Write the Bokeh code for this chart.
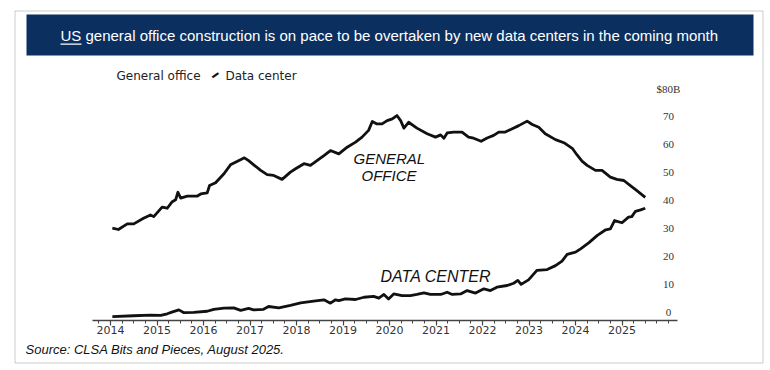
from bokeh.plotting import figure
from bokeh.models import Range1d, FixedTicker, Label, LabelSet, BoxAnnotation, ColumnDataSource
from bokeh.embed import file_html
from bokeh.resources import INLINE

# ---------------- data ----------------
title_text = "US general office construction is on pace to be overtaken by new data centers in the coming month"
source_text = "Source: CLSA Bits and Pieces, August 2025."
legend_office = "General office"
legend_dc = "Data center"
annot_office = ["GENERAL", "OFFICE"]
annot_dc = "DATA CENTER"

year_ticks = list(range(2014, 2026))
year_labels = ["2014", "2015", "2016", "2017", "2018", "2019", "2020",
               "2021", "2022", "2023", "2024", "2025"]
quarter_ticks = [2013.75] + [y + q / 4 for y in range(2014, 2026) for q in range(1, 4)] + [2026.0]

y_ticks = [0, 10, 20, 30, 40, 50, 60, 70, 80]
y_labels = ["0", "10", "20", "30", "40", "50", "60", "70", "$80B"]

# General office construction ($B, annualized)
go_t = [2014.04, 2014.17, 2014.36, 2014.50, 2014.71, 2014.86, 2014.93, 2015.11, 2015.22,
        2015.32, 2015.40, 2015.45, 2015.51, 2015.65, 2015.86, 2015.94, 2016.08, 2016.13,
        2016.26, 2016.44, 2016.58, 2016.72, 2016.88, 2016.97, 2017.08, 2017.23, 2017.37,
        2017.51, 2017.69, 2017.87, 2017.98, 2018.16, 2018.30, 2018.44, 2018.59, 2018.73,
        2018.91, 2019.09, 2019.27, 2019.41, 2019.55, 2019.63, 2019.73, 2019.84, 2019.95,
        2020.06, 2020.16, 2020.24, 2020.31, 2020.41, 2020.59, 2020.81, 2020.99, 2021.10,
        2021.17, 2021.24, 2021.38, 2021.56, 2021.70, 2021.81, 2021.97, 2022.10, 2022.24,
        2022.35, 2022.49, 2022.64, 2022.78, 2022.96, 2023.07, 2023.21, 2023.35, 2023.57,
        2023.75, 2023.93, 2024.03, 2024.14, 2024.25, 2024.43, 2024.57, 2024.75, 2024.89,
        2025.04, 2025.18, 2025.32, 2025.50]
go_v = [33.0, 32.5, 34.5, 34.5, 36.5, 37.7, 37.1, 40.5, 40.1,
        42.3, 43.1, 45.8, 43.7, 44.4, 44.4, 45.2, 45.6, 48.2,
        49.2, 52.4, 55.6, 56.8, 58.1, 57.1, 55.6, 53.6, 52.1,
        51.8, 50.4, 53.0, 54.2, 56.0, 55.4, 57.1, 58.9, 60.7,
        59.5, 61.9, 63.7, 65.5, 67.9, 71.1, 70.2, 70.2, 71.4,
        72.0, 73.2, 71.4, 68.7, 70.8, 68.7, 66.7, 65.5, 66.3,
        65.1, 67.0, 67.3, 67.3, 65.5, 65.1, 64.0, 65.2, 66.1,
        67.3, 67.3, 68.5, 69.6, 71.2, 70.0, 69.0, 66.7, 64.6,
        63.5, 61.5, 59.2, 56.9, 55.4, 53.6, 53.6, 51.2, 50.4,
        50.0, 48.2, 46.4, 44.0]

# Data center construction ($B, annualized)
dc_t = [2014.04, 2014.50, 2014.86, 2015.08, 2015.22, 2015.32, 2015.47, 2015.58, 2015.79,
        2016.08, 2016.22, 2016.44, 2016.65, 2016.80, 2016.97, 2017.08, 2017.29, 2017.40,
        2017.62, 2017.87, 2018.09, 2018.37, 2018.59, 2018.73, 2018.84, 2018.91, 2019.05,
        2019.27, 2019.45, 2019.66, 2019.77, 2019.88, 2019.98, 2020.09, 2020.27, 2020.45,
        2020.59, 2020.74, 2020.88, 2021.10, 2021.24, 2021.35, 2021.53, 2021.67, 2021.85,
        2022.03, 2022.17, 2022.31, 2022.53, 2022.67, 2022.76, 2022.83, 2022.99, 2023.17,
        2023.39, 2023.57, 2023.71, 2023.82, 2024.00, 2024.11, 2024.29, 2024.47, 2024.65,
        2024.75, 2024.84, 2025.00, 2025.14, 2025.21, 2025.29, 2025.40, 2025.50]
dc_v = [1.4, 1.7, 1.9, 1.8, 2.4, 3.0, 3.8, 2.8, 2.9,
        3.3, 4.0, 4.4, 4.5, 3.6, 4.3, 3.8, 4.0, 5.0,
        4.5, 5.4, 6.3, 6.9, 7.4, 6.2, 7.4, 7.1, 7.7,
        7.5, 8.3, 8.6, 8.0, 9.3, 7.7, 9.5, 8.9, 8.9,
        9.3, 9.9, 9.3, 9.3, 10.1, 9.3, 9.5, 10.7, 9.8,
        11.3, 10.7, 11.9, 12.5, 13.3, 14.3, 12.9, 14.5, 17.9,
        18.2, 19.6, 21.2, 23.6, 24.4, 25.6, 27.8, 30.4, 32.4,
        32.7, 35.7, 34.9, 36.9, 37.1, 39.0, 39.5, 40.1]

# ---------------- figure ----------------
# Plot frame covers the whole canvas; scales place 2014 at x=110 (46.5 px/yr)
# and 0 at y=320 (2.8 px per $1B).
W, H = 766, 366
PX_YR, X0 = 46.5, 110.0
PX_V, Y0 = 2.8, 320.0
x_start = 2014 - X0 / PX_YR
x_end = x_start + W / PX_YR
y_end = Y0 / PX_V
y_start = y_end - H / PX_V

p = figure(width=W, height=H, output_backend="svg", toolbar_location=None,
           x_range=Range1d(x_start, x_end), y_range=Range1d(y_start, y_end),
           y_axis_location=None,
           min_border=0, min_border_left=0, min_border_right=0,
           min_border_top=0, min_border_bottom=0,
           background_fill_color="white", border_fill_color="white")
p.outline_line_color = None
p.xgrid.visible = False
p.ygrid.visible = False

ax = p.xaxis[0]
ax.fixed_location = 0
ax.bounds = (2014 - 18 / PX_YR, 2014 + 567 / PX_YR)
ax.ticker = FixedTicker(ticks=year_ticks, minor_ticks=quarter_ticks)
ax.major_label_overrides = {t: l for t, l in zip(year_ticks, year_labels)}
ax.axis_line_color = "#444444"
ax.axis_line_width = 1.5
ax.major_tick_in = 0
ax.major_tick_out = 5
ax.minor_tick_in = 0
ax.minor_tick_out = 3
ax.major_tick_line_color = "#444444"
ax.minor_tick_line_color = "#444444"
ax.major_tick_line_width = 1.2
ax.major_label_standoff = 0
ax.major_label_text_font = "DejaVu Sans"
ax.major_label_text_font_size = "11px"
ax.major_label_text_color = "#333333"

p.line(go_t, go_v, line_color="#111111", line_width=2.8, line_join="round")
p.line(dc_t, dc_v, line_color="#111111", line_width=2.8, line_join="round")

ysrc = ColumnDataSource(dict(x=[2026.0] * len(y_ticks), y=y_ticks, t=y_labels))
p.add_layout(LabelSet(x="x", y="y", text="t", source=ysrc, y_offset=8,
                      text_font="DejaVu Sans", text_font_size="11px", text_color="#333333",
                      text_align="center", text_baseline="middle"))

# ---------------- decorations (canvas pixels) ----------------
def box(l, r, t, b, **kw):
    return BoxAnnotation(left=l, right=r, top=t, bottom=b,
                         left_units="canvas", right_units="canvas",
                         top_units="canvas", bottom_units="canvas", **kw)

p.add_layout(box(14.5, 762.5, 10.5, 362.5, fill_alpha=0, line_color="#555555", line_width=1))
p.add_layout(box(26, 753, 14, 55, fill_color="#0b2f5f", fill_alpha=1, line_color=None))
p.add_layout(Label(x=60, y=35, x_units="canvas", y_units="canvas", text=title_text,
                   text_font="Liberation Sans", text_font_size="15px", text_color="white",
                   text_align="left", text_baseline="middle"))
p.add_layout(box(60, 81, 43, 44.3, fill_color="white", fill_alpha=1, line_color=None))

p.add_layout(Label(x=116, y=75, x_units="canvas", y_units="canvas", text=legend_office,
                   text_font="DejaVu Sans", text_font_size="12px", text_color="#222222",
                   text_align="left", text_baseline="middle"))
p.add_layout(Label(x=215, y=75, x_units="canvas", y_units="canvas", text="\u2501",
                   angle=35, angle_units="deg",
                   text_font="DejaVu Sans", text_font_size="12px", text_color="#111111",
                   text_align="center", text_baseline="middle"))
p.add_layout(Label(x=225, y=75, x_units="canvas", y_units="canvas", text=legend_dc,
                   text_font="DejaVu Sans", text_font_size="12px", text_color="#222222",
                   text_align="left", text_baseline="middle"))

for txt, lx, ly, fs in [(annot_office[0], 353, 158, "15px"), (annot_office[1], 361, 175, "15px"),
                        (annot_dc, 380, 276, "16px")]:
    p.add_layout(Label(x=lx, y=ly, x_units="canvas", y_units="canvas", text=txt,
                       text_font="Liberation Sans", text_font_style="italic",
                       text_font_size=fs, text_color="#111111",
                       text_align="left", text_baseline="middle"))

p.add_layout(Label(x=25, y=349, x_units="canvas", y_units="canvas", text=source_text,
                   text_font="Liberation Sans", text_font_style="italic",
                   text_font_size="13px", text_color="#111111",
                   text_align="left", text_baseline="middle"))

open("out.html", "w").write(file_html(p, INLINE))
